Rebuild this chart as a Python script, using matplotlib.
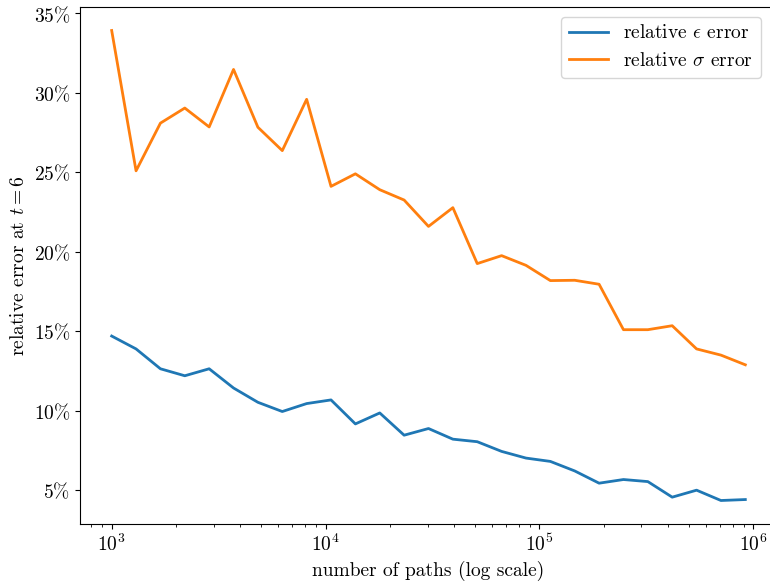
import matplotlib
matplotlib.use("Agg")
import matplotlib.pyplot as plt
from matplotlib.ticker import FuncFormatter

plt.rcParams["font.family"] = "serif"
plt.rcParams["font.serif"] = ["cmr10", "DejaVu Serif"]
plt.rcParams["mathtext.fontset"] = "cm"
plt.rcParams["axes.unicode_minus"] = False
plt.rcParams["axes.formatter.use_mathtext"] = True
plt.rcParams["font.size"] = 14

# number of simulated paths
n_paths = [1000, 1300, 1690, 2197, 2856, 3713, 4827, 6275, 8157, 10604,
           13786, 17922, 23298, 30287, 39373, 51185, 66541, 86503, 112455,
           146192, 190049, 247064, 321184, 417539, 542801, 705641, 917333]

# relative errors (percent)
eps_err = [14.70, 13.89, 12.64, 12.20, 12.64, 11.43, 10.53, 9.95, 10.45, 10.68,
           9.17, 9.86, 8.46, 8.88, 8.21, 8.05, 7.44, 7.02, 6.81, 6.21,
           5.44, 5.67, 5.54, 4.56, 5.00, 4.35, 4.41]
sigma_err = [33.93, 25.10, 28.10, 29.05, 27.86, 31.48, 27.84, 26.37, 29.60, 24.12,
             24.91, 23.91, 23.26, 21.60, 22.78, 19.26, 19.76, 19.15, 18.19, 18.21,
             17.96, 15.10, 15.10, 15.35, 13.89, 13.50, 12.89]

fig = plt.figure(figsize=(7.7, 5.85), dpi=100)
ax = fig.add_axes([80 / 770, 61 / 585, 697 / 770, 517 / 585])

ax.plot(n_paths, eps_err, color="#1f77b4", lw=2, label=r"relative $\epsilon$ error")
ax.plot(n_paths, sigma_err, color="#ff7f0e", lw=2, label=r"relative $\sigma$ error")
ax.set_xscale("log")
ax.set_yticks([5, 10, 15, 20, 25, 30, 35])
ax.yaxis.set_major_formatter(FuncFormatter(lambda v, p: r"$%d\%%$" % v))

ax.set_xlabel("number of paths (log scale)")
ax.set_ylabel(r"relative error at $t = 6$")
ax.legend(loc="upper right", bbox_to_anchor=(0.991, 1.0))

fig.savefig("out.png", dpi=100)
